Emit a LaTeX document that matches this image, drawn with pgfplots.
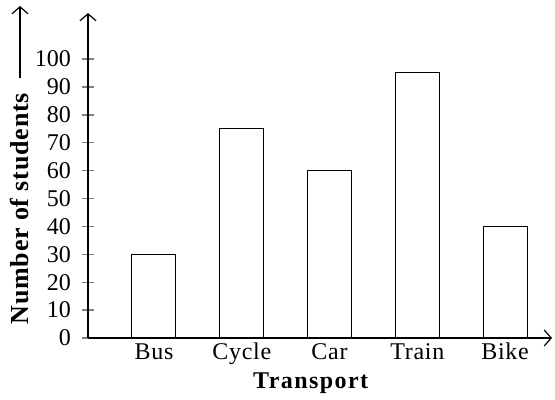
\documentclass[border=0pt]{standalone}
\usepackage{fontspec}
\setmainfont{Liberation Serif}
\usepackage{pgfplots}
\pgfplotsset{compat=1.18}
\usetikzlibrary{arrows.meta}
\begin{document}
\begin{tikzpicture}
\begin{axis}[
  scale only axis,
  width=232pt, height=162.5pt,
  xmin=0.248, xmax=5.535,
  ymin=0, ymax=116.5,
  axis lines=left,
  axis line style={line width=0.7pt},
  every outer x axis line/.append style={-{Straight Barb[length=3.5pt,width=8pt,line width=0.6pt]}},
  every outer y axis line/.append style={-{Straight Barb[length=3.5pt,width=8pt,line width=0.6pt]}},
  xtick={1,2,3,4,5},
  xticklabels={Bus,Cycle,Car,Train,Bike},
  major x tick style={draw=none},
  ytick={0,10,...,100},
  major tick length=6pt,
  tick align=center,
  major y tick style={line width=0.7pt},
  /pgf/number format/assume math mode=true,
  tick label style={font=\fontsize{12}{14}\selectfont},
  xticklabel style={font=\fontsize{12}{14}\selectfont\addfontfeature{LetterSpace=3}, anchor=base, yshift=-4.5pt},
  yticklabel style={xshift=-2pt},
  xlabel={Transport},
  xlabel style={font=\fontsize{12}{14}\selectfont\bfseries\addfontfeature{LetterSpace=6}, at={(axis description cs:0.48,0)}, anchor=base, yshift=-25pt},
  ylabel={Number of students},
  ylabel style={font=\fontsize{13}{15}\selectfont\bfseries\addfontfeature{LetterSpace=3}, at={(axis description cs:-0.1466,0.02)}, anchor=west},
  ybar, bar width=22pt,
]
\addplot[draw=black, fill=white, line width=0.5pt] coordinates {(1,30) (2,75) (3,60) (4,95) (5,40)};
\end{axis}
\draw[line width=0.6pt, -{Straight Barb[length=3.5pt,width=8pt,line width=0.6pt]}] (-34pt,130pt) -- (-34pt,166pt);
\pgfresetboundingbox
\path (-44pt,-31pt) rectangle (233.5pt,169pt);
\end{tikzpicture}
\end{document}
